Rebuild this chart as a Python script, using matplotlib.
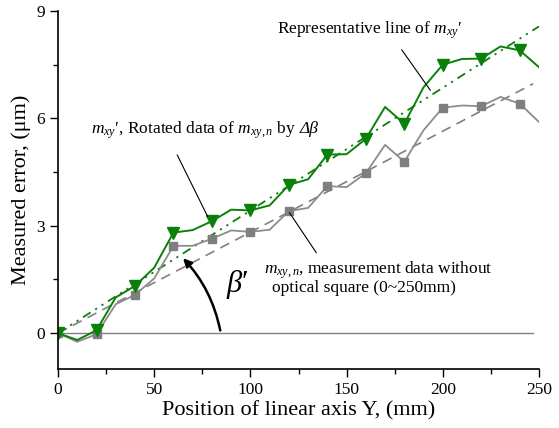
import matplotlib
matplotlib.use("Agg")
import matplotlib.pyplot as plt
import numpy as np

plt.rcParams["font.family"] = ["Liberation Serif", "DejaVu Serif"]
plt.rcParams["mathtext.fontset"] = "custom"
plt.rcParams["mathtext.rm"] = "Liberation Serif"
plt.rcParams["mathtext.it"] = "Liberation Serif:italic"
plt.rcParams["mathtext.bf"] = "Liberation Serif:bold"

# 측정 위치 (mm), 10 mm 간격
pos_y = [0, 10, 20, 30, 40, 50, 60, 70, 80, 90, 100, 110, 120,
         130, 140, 150, 160, 170, 180, 190, 200, 210, 220, 230, 240, 250]

# m_xy' : 회전 보정된 데이터 (um)
rotated = [0.00, -0.19, 0.08, 1.00, 1.32, 1.83, 2.81, 2.88, 3.13, 3.45, 3.43, 3.57, 4.14,
           4.30, 4.99, 5.00, 5.43, 6.32, 5.85, 6.87, 7.50, 7.66, 7.67, 8.01, 7.90, 7.43]

# m_xy,n : 광학 직각자 없는 측정 데이터 (um)
measured = [0.00, -0.24, -0.03, 0.81, 1.07, 1.53, 2.44, 2.44, 2.64, 2.87, 2.83, 2.89, 3.41,
            3.50, 4.11, 4.08, 4.47, 5.26, 4.79, 5.67, 6.30, 6.36, 6.34, 6.60, 6.41, 5.90]

# 대표 직선 (시작/끝 점)
rep_rot_x = [0, 250]
rep_rot_y = [0.0, 8.57]
rep_meas_x = [0, 247]
rep_meas_y = [0.0, 6.97]

GREEN = "#0a800a"
GRAY = "#808080"

fig = plt.figure(figsize=(5.59, 4.28), dpi=100)
ax = fig.add_axes([0.1038, 0.1379, 0.8604, 0.8364])

ax.plot([0, 247], [0, 0], color=GRAY, lw=1.0)

ax.plot(rep_meas_x, rep_meas_y, color=GRAY, lw=1.2, ls=(0, (6, 4)))
ax.plot(rep_rot_x, rep_rot_y, color=GREEN, lw=1.3, ls=(0, (5, 3, 1.2, 3, 1.2, 3)))

ax.plot(pos_y, measured, color="#8c8c8c", lw=1.3)
ax.plot(pos_y[::2], measured[::2], ls="none", marker="s", ms=6, color="#7f7f7f")
ax.plot(pos_y, rotated, color=GREEN, lw=1.4)
ax.plot(pos_y[::2], rotated[::2], ls="none", marker="v", ms=8, color=GREEN)

ax.set_xlim(0, 250)
ax.set_ylim(-1, 9)
ax.set_xticks([0, 50, 100, 150, 200, 250])
ax.set_xticks([25, 75, 125, 175, 225], minor=True)
ax.set_yticks([0, 3, 6, 9])
ax.set_yticks([1.5, 4.5, 7.5], minor=True)
ax.tick_params(which="major", length=6, width=1.0, labelsize=12.5, direction="out")
ax.tick_params(which="minor", length=3.5, width=1.0, direction="out")
for s in ("top", "right"):
    ax.spines[s].set_visible(False)
for s in ("left", "bottom"):
    ax.spines[s].set_linewidth(1.2)

ax.set_xlabel("Position of linear axis Y, (mm)", fontsize=16, labelpad=2)
ax.set_ylabel("Measured error, (\u03bcm)", fontsize=16, labelpad=4)

# 주석
ax.annotate("", xy=(194.4, 6.72), xytext=(177.8, 7.98),
            arrowprops=dict(arrowstyle="-", color="black", lw=0.8))
ax.text(162, 8.45, r"Representative line of $m_{xy}\prime$", fontsize=12.5,
        ha="center", va="center")

ax.annotate("", xy=(78.5, 3.18), xytext=(61.3, 5.05),
            arrowprops=dict(arrowstyle="-", color="black", lw=0.8))
t_rot = ax.text(17.0, 5.68, r"$m_{xy}\prime$, Rotated data of $m_{xy,n}$ by",
                fontsize=12.5, ha="left", va="center")
# Δβ 는 이탤릭체로 이어 붙임
ax.annotate("Δβ", xy=(1, 0.5), xycoords=t_rot, xytext=(3, 0.5), textcoords="offset points",
            fontsize=12.5, style="italic", ha="left", va="center")

ax.annotate("", xy=(135.1, 2.18), xytext=(119.5, 3.43),
            arrowprops=dict(arrowstyle="-", color="black", lw=0.8))
ax.text(107, 1.76, r"$m_{xy,n}$, measurement data without", fontsize=12.5,
        ha="left", va="center")
ax.text(111, 1.25, "optical square (0~250mm)", fontsize=12.5,
        ha="left", va="center")

ax.annotate("", xy=(64, 2.15), xytext=(84.6, 0.0),
            arrowprops=dict(arrowstyle="-|>", color="black", lw=1.8,
                            mutation_scale=12,
                            connectionstyle="arc3,rad=0.15"))
ax.text(93, 1.36, r"$\beta\prime$", fontsize=22, ha="center", va="center")

fig.savefig("out.png", dpi=100)
